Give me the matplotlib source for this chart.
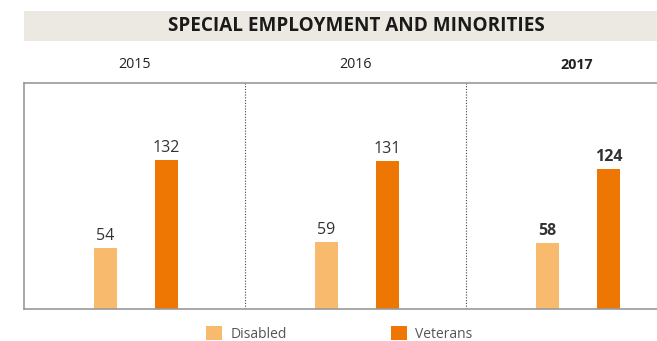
import numpy as np
import matplotlib.pyplot as plt
from matplotlib.patches import Rectangle
import matplotlib.transforms as mtransforms

years = ['2015', '2016', '2017']
disabled = [54, 59, 58]
veterans = [132, 131, 124]

c_dis = '#F8BA6C'
c_vet = '#EE7703'
W, H = 657, 341

plt.rcParams['font.family'] = ['Open Sans', 'DejaVu Sans']

fig = plt.figure(figsize=(W / 100, H / 100), dpi=100)

# title band
fig.patches.append(Rectangle((24 / W, 1 - 41 / H), 1 - 24 / W, 30 / H,
                             transform=fig.transFigure, facecolor='#ECE8E2',
                             edgecolor='none', zorder=0))
fig.text(356 / W, 1 - 26 / H, 'SPECIAL EMPLOYMENT AND MINORITIES',
         ha='center', va='center', fontsize=13.6, fontweight='bold', color='#1a1a1a')

ax = fig.add_axes([24 / W, 1 - 309 / H, (W - 24) / W, (309 - 83) / H])
ax.set_xlim(0, (W - 24) / 221)
ax.set_ylim(0, 200)

x = np.arange(len(years))
bw = 0.104
ax.bar(x + 0.369, disabled, bw, color=c_dis, label='Disabled', zorder=2)
ax.bar(x + 0.645, veterans, bw, color=c_vet, label='Veterans', zorder=2)

for i in range(len(years)):
    w = 'bold' if i == len(years) - 1 else 'normal'
    ax.annotate(str(disabled[i]), (x[i] + 0.369, disabled[i]), xytext=(0, 3),
                textcoords='offset points', ha='center', va='bottom',
                fontsize=11.5, color='#333333', fontweight=w)
    ax.annotate(str(veterans[i]), (x[i] + 0.645, veterans[i]), xytext=(0, 3),
                textcoords='offset points', ha='center', va='bottom',
                fontsize=11.5, color='#333333', fontweight=w)

trans = mtransforms.blended_transform_factory(ax.transData, ax.transAxes)
for i, yr in enumerate(years):
    w = 'bold' if i == len(years) - 1 else 'normal'
    ax.text(i + 0.5, (309 - 65) / 226, yr, transform=trans, ha='center',
            va='center', fontsize=10.3, color='#222222', fontweight=w)

for xv in [1, 2]:
    ax.axvline(xv, color='#444444', lw=0.8, ls=(0, (1, 1.5)), zorder=1)

for s in ['left', 'top', 'bottom']:
    ax.spines[s].set_color('#999999')
    ax.spines[s].set_linewidth(1.2)
ax.spines['right'].set_visible(False)
ax.set_xticks([])
ax.set_yticks([])

ax.legend(loc='center left', bbox_to_anchor=(206 / W, 1 - 334 / H),
          bbox_transform=fig.transFigure, ncol=2, frameon=False,
          handlelength=1.15, handleheight=1.15, columnspacing=7.5,
          handletextpad=0.6, labelcolor='#555555', fontsize=10,
          borderpad=0, borderaxespad=0)

fig.savefig('out.png', dpi=100)
